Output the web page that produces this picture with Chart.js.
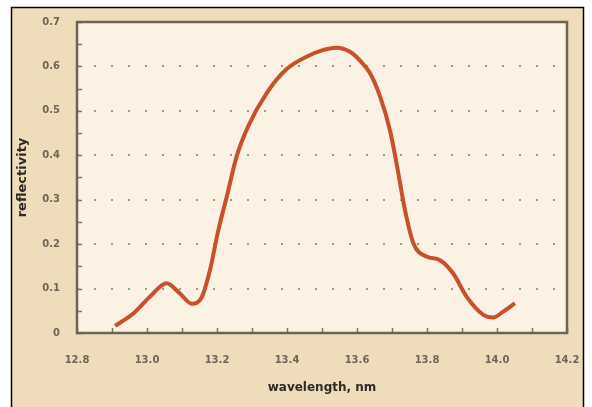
<!DOCTYPE html>
<html>
<head>
<meta charset="utf-8">
<script src="https://cdn.jsdelivr.net/npm/chart.js@4.4.1/dist/chart.umd.min.js"></script>
<style>
  html, body { margin: 0; padding: 0; background: #ffffff; }
  #wrap { position: relative; width: 592px; height: 407px; }
  canvas { display: block; }
</style>
</head>
<body>
<div id="wrap"><canvas id="c" width="592" height="407"></canvas></div>
<script>
// wavelength (nm)
const wavelengths = [12.909, 12.961, 13.009, 13.056, 13.094, 13.128, 13.156, 13.180, 13.204, 13.228,
  13.256, 13.289, 13.342, 13.399, 13.456, 13.500, 13.540, 13.580, 13.610, 13.637, 13.666,
  13.694, 13.713, 13.737, 13.761, 13.799, 13.837, 13.875, 13.913, 13.961, 13.989, 14.018, 14.051];
// reflectivity
const reflectivity = [0.016, 0.044, 0.082, 0.112, 0.089, 0.066, 0.080, 0.142, 0.232, 0.307,
  0.397, 0.465, 0.540, 0.594, 0.622, 0.636, 0.642, 0.633, 0.612, 0.585, 0.532,
  0.457, 0.382, 0.277, 0.202, 0.172, 0.164, 0.134, 0.082, 0.041, 0.035, 0.048, 0.067];
const xTickValues = [12.8, 13.0, 13.2, 13.4, 13.6, 13.8, 14.0, 14.2];
const yTickValues = [0, 0.1, 0.2, 0.3, 0.4, 0.5, 0.6, 0.7];

const points = wavelengths.map((w, i) => ({ x: w, y: reflectivity[i] }));

const FRAME = { left: 11.5, top: 7.5, right: 583.5 };
const decor = {
  id: 'decor',
  beforeDraw(chart) {
    const ctx = chart.ctx;
    const a = chart.chartArea;
    ctx.save();
    ctx.fillStyle = '#efdcbb';
    ctx.fillRect(FRAME.left, FRAME.top, FRAME.right - FRAME.left, chart.height - FRAME.top);
    ctx.strokeStyle = '#000000';
    ctx.lineWidth = 1.5;
    ctx.beginPath();
    ctx.moveTo(FRAME.left, chart.height);
    ctx.lineTo(FRAME.left, FRAME.top);
    ctx.lineTo(FRAME.right, FRAME.top);
    ctx.lineTo(FRAME.right, chart.height);
    ctx.stroke();
    ctx.fillStyle = '#fcf2e3';
    ctx.fillRect(a.left, a.top, a.right - a.left, a.bottom - a.top);
    ctx.restore();
  },
  afterDraw(chart) {
    const ctx = chart.ctx;
    const a = chart.chartArea;
    const xs = chart.scales.x, ys = chart.scales.y;
    ctx.save();
    ctx.strokeStyle = '#7d7466';
    ctx.lineWidth = 1.5;
    ctx.beginPath();
    for (let i = 0; i <= 14; i++) {
      const py = Math.round(ys.getPixelForValue(i * 0.05)) + 0.5;
      ctx.moveTo(a.left, py); ctx.lineTo(a.left + 5, py);
    }
    for (let i = 0; i <= 14; i++) {
      const px = Math.round(xs.getPixelForValue(12.8 + i * 0.1)) + 0.5;
      ctx.moveTo(px, a.bottom); ctx.lineTo(px, a.bottom - 5);
    }
    ctx.stroke();
    ctx.strokeStyle = '#6e6455';
    ctx.lineWidth = 2.5;
    ctx.strokeRect(a.left, a.top, a.right - a.left, a.bottom - a.top);
    ctx.restore();
  }
};

new Chart(document.getElementById('c'), {
  type: 'line',
  data: {
    datasets: [{
      data: points,
      borderColor: '#c8502b',
      borderWidth: 4,
      pointRadius: 0,
      tension: 0.4,
      cubicInterpolationMode: 'monotone',
      fill: false
    }]
  },
  options: {
    responsive: false,
    animation: false,
    devicePixelRatio: 1,
    layout: { padding: { top: 22, right: 25, left: 0, bottom: 0 } },
    plugins: { legend: { display: false }, tooltip: { enabled: false } },
    scales: {
      x: {
        type: 'linear',
        min: 12.8, max: 14.2,
        afterFit(s) { s.height = 74; },
        afterBuildTicks(s) { s.ticks = xTickValues.map(v => ({ value: v })); },
        grid: { display: false, drawTicks: true, tickLength: 18, tickColor: 'rgba(0,0,0,0)' },
        border: { display: false },
        ticks: {
          padding: 3,
          color: '#6e6458',
          font: { family: 'DejaVu Sans', size: 10, weight: 'bold' },
          callback: v => Number(v).toFixed(1),
          maxRotation: 0
        },
        title: {
          display: true,
          text: 'wavelength, nm',
          color: '#2e2a26',
          font: { family: 'DejaVu Sans', size: 12, weight: 'bold' },
          padding: { top: 0, bottom: 12 }
        }
      },
      y: {
        type: 'linear',
        min: 0, max: 0.7,
        afterFit(s) { s.width = 77; },
        afterBuildTicks(s) { s.ticks = yTickValues.map(v => ({ value: v })); },
        grid: {
          drawTicks: true,
          tickLength: 14,
          tickColor: 'rgba(0,0,0,0)',
          color: ctx => (ctx.tick && ctx.tick.value > 0.05 && ctx.tick.value < 0.65) ? '#9f9686' : 'rgba(0,0,0,0)',
          lineWidth: 2
        },
        border: { display: false, dash: [2, 15] },
        ticks: {
          padding: 3,
          color: '#6e6458',
          font: { family: 'DejaVu Sans', size: 10, weight: 'bold' },
          callback: v => (Math.abs(v) < 1e-9 ? '0' : Number(v).toFixed(1))
        },
        title: {
          display: true,
          text: 'reflectivity',
          color: '#2e2a26',
          font: { family: 'DejaVu Sans', size: 13, weight: 'bold' },
          padding: { top: 15, bottom: 0 }
        }
      }
    }
  },
  plugins: [decor]
});
</script>
</body>
</html>
